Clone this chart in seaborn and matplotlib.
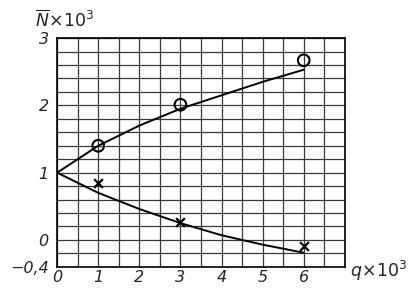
import numpy as np
import pandas as pd
import seaborn as sns
from matplotlib import pyplot as plt

# measured points
q_pts = [1, 3, 6]
n_circle = [1.40, 2.01, 2.67]
n_cross = [0.85, 0.27, -0.09]

# fitted curves
q_curve = [0, 1, 2, 3, 4, 5, 6]
n_upper = [1.0, 1.40, 1.70, 1.95, 2.15, 2.35, 2.53]
n_lower = [1.0, 0.70, 0.46, 0.25, 0.07, -0.07, -0.19]

x_labels = ['0', '1', '2', '3', '4', '5', '6']
y_ticks = [-0.4, 0, 1, 2, 3]
y_labels = ['\u22120,4', '0', '1', '2', '3']

sns.set_style('white')
plt.rcParams['font.family'] = ['DejaVu Sans']

curves = pd.DataFrame({'q': q_curve * 2,
                       'N': n_upper + n_lower,
                       'curve': ['upper'] * 7 + ['lower'] * 7})

fig = plt.figure(figsize=(4.11, 2.91), dpi=100)
ax = fig.add_axes([0.139, 0.083, 0.700, 0.786])

sns.lineplot(data=curves, x='q', y='N', units='curve', estimator=None,
             color='black', linewidth=1.4, ax=ax)
sns.scatterplot(x=q_pts, y=n_circle, marker='o', s=70, facecolor='none',
                edgecolor='black', linewidth=1.5, ax=ax, zorder=5)
sns.scatterplot(x=q_pts, y=n_cross, marker='x', s=40, color='black',
                linewidth=1.6, ax=ax, zorder=5)

ax.set_xlim(0, 7)
ax.set_ylim(-0.4, 3)
ax.set_xticks(range(7))
ax.set_xticklabels(x_labels, style='italic', fontsize=11.5)
ax.set_xticks(np.arange(0, 7.01, 0.5), minor=True)
ax.set_yticks(y_ticks)
ax.set_yticklabels(y_labels, style='italic', fontsize=11.5)
ax.set_yticks(np.arange(-0.4, 3.01, 0.2), minor=True)
ax.tick_params(axis='x', which='both', length=0, pad=2)
ax.tick_params(axis='y', which='major', direction='in', length=9, width=2.2, pad=6)
ax.tick_params(axis='y', which='minor', length=0)
ax.grid(True, which='both', color='#3a3a3a', linewidth=0.9)
for s in ax.spines.values():
    s.set_color('black')
    s.set_linewidth(1.2)
ax.set_xlabel('')
ax.set_ylabel('')

fig.text(0.085, 0.93, r'$\overline{N}\!\times\!10^{3}$', fontsize=12.5,
         style='italic', ha='left', va='center')
fig.text(0.852, 0.07, r'$q\!\times\!10^{3}$', fontsize=12.5,
         style='italic', ha='left', va='center')

fig.savefig('out.png', dpi=100)
